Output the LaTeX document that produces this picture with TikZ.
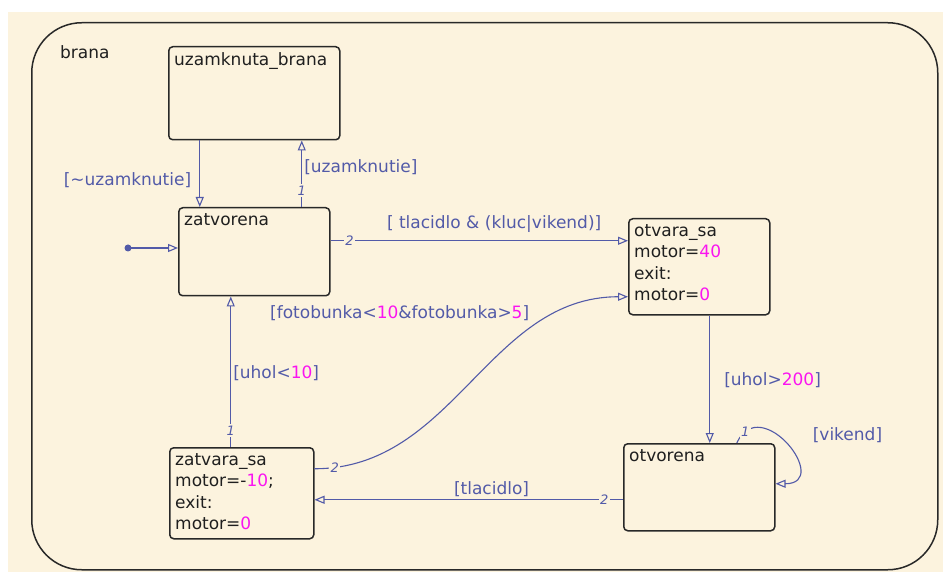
\documentclass[tikz,border=0pt]{standalone}
\usepackage{fontspec}
\setmainfont{DejaVu Sans}
\usetikzlibrary{arrows.meta, positioning, calc}
\definecolor{cream}{RGB}{252,243,222}
\definecolor{transblue}{RGB}{82,90,168}
\definecolor{valcol}{RGB}{250,20,240}
\definecolor{edgecol}{RGB}{40,40,40}
\newcommand\numval[1]{\textcolor{valcol}{#1}}
\tikzset{
	x=1pt, y=-1pt, % pixel grid, y runs downwards
	>={Triangle[open,length=10pt,width=8pt]}, % hollow arrow heads
	state/.style={draw=edgecol, line width=1.5pt, rounded corners=4pt, anchor=north west, inner sep=0pt}, % state box
	statetext/.style={anchor=north west, align=left, inner sep=6pt, text=black!88, font=\fontsize{17}{21.5}\selectfont}, % name and actions
	trans/.style={->, draw=transblue, line width=1.1pt}, % transitions
	guard/.style={text=transblue, inner sep=2pt, font=\fontsize{17}{20}\selectfont}, % condition labels
	prio/.style={pos=#1, fill=cream, inner sep=1.5pt, text=transblue, font=\fontsize{13}{14}\selectfont\itshape}, % execution order
}
\begin{document}
\begin{tikzpicture}
		\useasboundingbox (0,0) rectangle (943,572);
		\fill[cream] (8,12) rectangle (943,572);
		
		\node[state, minimum width=906pt, minimum height=547pt, rounded corners=50pt,
			label={[statetext, xshift=23pt, yshift=-17pt]north west:brana}] (brana) at (31,22) {};
		
		\node[state, minimum width=171pt, minimum height=93pt,
			label={[statetext]north west:{uzamknuta\_brana}}] (uzam) at (168,46) {};
		\node[state, minimum width=151pt, minimum height=88pt,
			label={[statetext]north west:zatvorena}] (zatv) at (178,207) {};
		\node[state, minimum width=141pt, minimum height=96pt,
			label={[statetext]north west:{otvara\_sa\\motor=\numval{40}\\exit:\\motor=\numval{0}}}] (otvs) at (628,218) {};
		\node[state, minimum width=144pt, minimum height=91pt,
			label={[statetext]north west:{zatvara\_sa\\motor=-\numval{10};\\exit:\\motor=\numval{0}}}] (ztvs) at (169,447) {};
		\node[state, minimum width=151pt, minimum height=87pt,
			label={[statetext]north west:otvorena}] (otvr) at (623,443) {};
		
		% default transition
		\coordinate (init) at (128,248);
		\fill[transblue] (init) circle (3.5pt);
		\draw[trans] (init) -- (init -| zatv.west);
		%
		\draw[trans] ([xshift=-54.5pt]uzam.south) -- node[guard, left=6pt, pos=0.6]{[\textasciitilde uzamknutie]} ([xshift=-54.5pt]zatv.north);
		\draw[trans] ([xshift=47.5pt]zatv.north) -- node[prio=0.25]{1} node[guard, right, pos=0.6]{[uzamknutie]} ([xshift=47.5pt]uzam.south);
		%
		\draw[trans] ([yshift=11pt]zatv.east) coordinate (t1) -- node[prio=0.064]{2}
			node[guard, above, pos=0.55, yshift=6pt]{[ tlacidlo \& (kluc|vikend)]} (t1 -| otvs.west);
		%
		\draw[trans] ([xshift=10.5pt]otvs.south) -- node[guard, right=12pt, pos=0.51]{[uhol>\numval{200}]} ([xshift=10.5pt]otvr.north);
		%
		\draw[trans] ([xshift=37.5pt]otvr.north) to[out=65, in=0, looseness=2.6] node[prio=0.1]{1}
			node[guard, pos=0.4, anchor=west, xshift=33pt]{[vikend]} ([yshift=3.5pt]otvr.east);
		%
		\draw[trans] ([yshift=-12.5pt]otvr.west) coordinate (t7) -- node[prio=0.061]{2}
			node[guard, above, pos=0.426]{[tlacidlo]} (t7 -| ztvs.east);
		%
		\draw[trans] ([xshift=-11pt]ztvs.north) coordinate (t8) -- node[prio=0.11]{1}
			node[guard, right, pos=0.49]{[uhol<\numval{10}]} (t8 |- zatv.south);
		%
		\draw[trans] ([yshift=24.5pt]ztvs.east) to[out=0, in=180] node[prio=0.05]{2}
			node[guard, pos=0.75, anchor=south east, xshift=-8pt]{[fotobunka<\numval{10}\&fotobunka>\numval{5}]} ([yshift=-30pt]otvs.west);
	\end{tikzpicture}
\end{document}
